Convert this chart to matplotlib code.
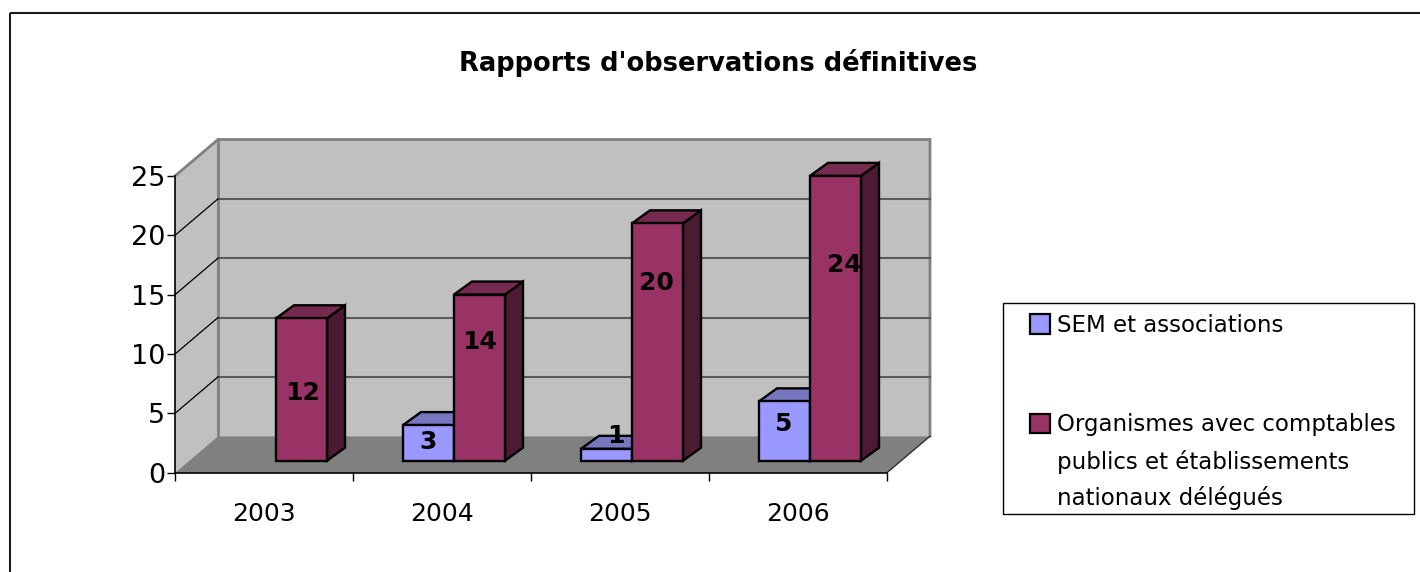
import matplotlib
matplotlib.use("Agg")
import matplotlib.pyplot as plt
from matplotlib.patches import Polygon, Rectangle

TITLE = "Rapports d'observations définitives"
YEARS = ["2003", "2004", "2005", "2006"]
SEM = [0, 3, 1, 5]
ORG = [12, 14, 20, 24]
Y_TICKS = [0, 5, 10, 15, 20, 25]
LEGEND_SEM = "SEM et associations"
LEGEND_ORG = ["Organismes avec comptables", "publics et établissements", "nationaux délégués"]

# label nudges in pixels from the bar's front-face centre (right, up)
SEM_NUDGE = [(0, 0), (0, 1), (9, 19), (-2, 7)]
ORG_NUDGE = [(1, -3.5), (0, 35.5), (-1, 59), (9, 53)]

W, H = 1420, 572
BLUE, BLUE_TOP = "#9999ff", "#7777c0"
RED, RED_TOP, RED_SIDE = "#993366", "#772a50", "#4d1a33"
WALL, FLOOR = "#c0c0c0", "#808080"
FONT = "DejaVu Sans"

fig = plt.figure(figsize=(W / 100, H / 100), dpi=100, facecolor="white")

# Pixel overlay for the frame and legend
bg = fig.add_axes([0, 0, 1, 1])
bg.set_xlim(0, W); bg.set_ylim(H, 0); bg.axis("off")
bg.add_patch(Rectangle((10, 13), W, H, fill=False, ec="#1a1a1a", lw=1.5))
bg.text(718.5, 63, TITLE, ha="center", va="center", fontsize=18.5, fontweight="bold", family=FONT, color="black")

# Front plane of the chart
L, R, T, B = 175, 887, 176, 472.7
ax = fig.add_axes([L / W, 1 - B / H, (R - L) / W, (B - T) / H])
ax.set_xlim(0, len(YEARS)); ax.set_ylim(0, 25)
ax.patch.set_alpha(0)
for s in ["top", "right"]:
    ax.spines[s].set_visible(False)
for s in ["left", "bottom"]:
    ax.spines[s].set_linewidth(1.2)
    ax.spines[s].set_zorder(20)

px = len(YEARS) / (R - L)          # data units per pixel, x
py = 25 / (B - T)                  # data units per pixel, y
DX, DY = 43 * px, 36.5 * py        # chart depth
BAR_W = 51 * px
BAR_OFF_X, BAR_OFF_Y = 12 * px, 12 * py
BAR_DX, BAR_DY = 18 * px, 13 * py


def poly(pts, fc, ec="none", lw=0, z=1):
    ax.add_patch(Polygon(pts, closed=True, fc=fc, ec=ec, lw=lw, zorder=z, clip_on=False, joinstyle="miter"))


n = len(YEARS)
poly([(0, 0), (DX, DY), (DX, 25 + DY), (0, 25)], WALL)
poly([(DX, DY), (n + DX, DY), (n + DX, 25 + DY), (DX, 25 + DY)], WALL)
poly([(0, 0), (n, 0), (n + DX, DY), (DX, DY)], FLOOR)
ax.plot([0, DX, n + DX, n + DX], [25, 25 + DY, 25 + DY, DY], color="#808080", lw=2, clip_on=False, zorder=2, solid_joinstyle="miter")
ax.plot([DX, DX], [DY, 25 + DY], color="#808080", lw=2, clip_on=False, zorder=2)
ax.plot([n, n + DX], [0, DY], color="#303030", lw=1, clip_on=False, zorder=2)
for t in Y_TICKS[1:-1]:
    ax.plot([DX, n + DX], [t + DY, t + DY], color="#5a5a5a", lw=1.5, clip_on=False, zorder=2)
    ax.plot([0, DX], [t, t + DY], color="black", lw=0.9, clip_on=False, zorder=2)


def bar(x0, v, front, top, side, z):
    y0 = BAR_OFF_Y
    x1 = x0 + BAR_W
    y1 = y0 + v
    poly([(x1, y0), (x1 + BAR_DX, y0 + BAR_DY), (x1 + BAR_DX, y1 + BAR_DY), (x1, y1)], side, "black", 1.7, z)
    poly([(x0, y1), (x1, y1), (x1 + BAR_DX, y1 + BAR_DY), (x0 + BAR_DX, y1 + BAR_DY)], top, "black", 1.7, z)
    poly([(x0, y0), (x1, y0), (x1, y1), (x0, y1)], front, "black", 1.7, z)


def value_label(x0, v, nudge):
    ax.text(x0 + BAR_W / 2 + nudge[0] * px, BAR_OFF_Y + v / 2 + nudge[1] * py, str(v),
            ha="center", va="center", fontsize=18, fontweight="bold", family=FONT, zorder=10)


for i, (a, b) in enumerate(zip(SEM, ORG)):
    c = i + 0.5 + BAR_OFF_X
    if a:
        bar(c - BAR_W, a, BLUE, BLUE_TOP, BLUE_TOP, 5)
    bar(c, b, RED, RED_TOP, RED_SIDE, 6)
    if a:
        value_label(c - BAR_W, a, SEM_NUDGE[i])
    value_label(c, b, ORG_NUDGE[i])

ax.set_yticks(Y_TICKS)
ax.set_yticklabels([str(t) for t in Y_TICKS], fontsize=19.5, family=FONT)
ax.set_xticks(range(n + 1))
ax.set_xticklabels([""] * (n + 1))
ax.tick_params(axis="both", length=6, width=1.0, direction="out", zorder=20)
ax.tick_params(axis="y", pad=1)
for k, tick in enumerate(ax.xaxis.get_major_ticks()):
    tick.tick1line.set_color("black" if k == 0 else "#555555")
for i, y in enumerate(YEARS):
    ax.text(i + 0.5, -3.47, y, ha="center", va="center", fontsize=18, family=FONT, clip_on=False)

# Legend
bg.add_patch(Rectangle((1003, 302.5), 411, 211.5, fc="white", ec="black", lw=1, zorder=3))
bg.add_patch(Rectangle((1030, 314), 19.5, 19.5, fc=BLUE, ec="black", lw=1.6, zorder=4))
bg.add_patch(Rectangle((1030, 413.5), 19.5, 19.5, fc=RED, ec="black", lw=1.6, zorder=4))
bg.text(1057, 325.5, LEGEND_SEM, fontsize=16.5, family=FONT, va="center", zorder=5)
for yy, line in zip([425, 462, 498.5], LEGEND_ORG):
    bg.text(1057, yy, line, fontsize=16.5, family=FONT, va="center", zorder=5)

fig.savefig("out.png", dpi=100, facecolor="white")
